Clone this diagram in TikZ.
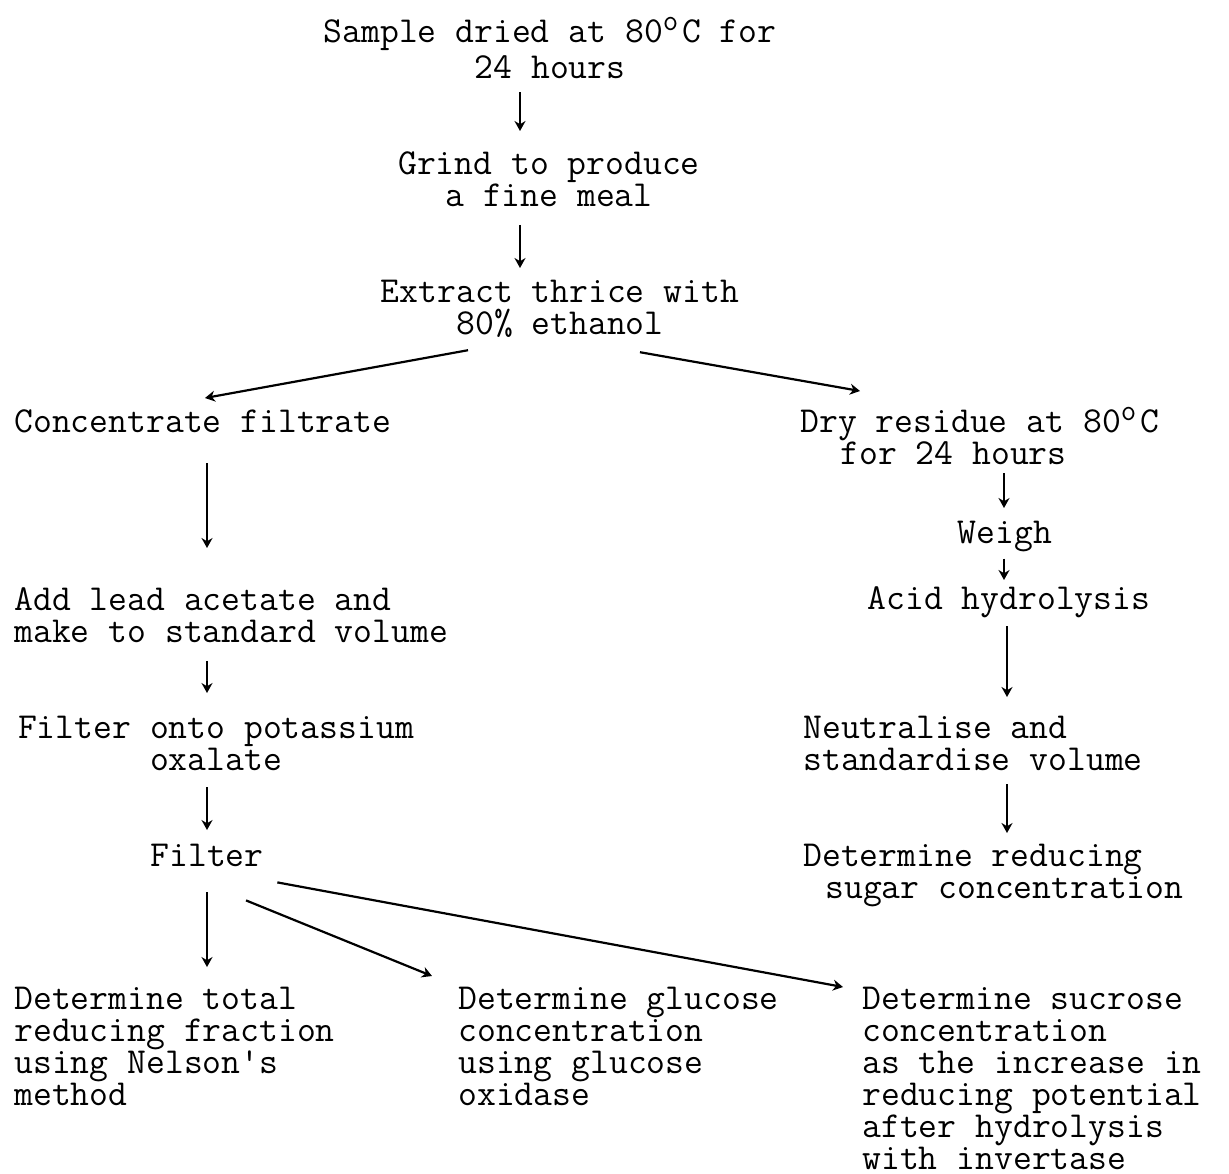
\documentclass[tikz,border=0pt]{standalone}
\usepackage{fontspec}
\usepackage{tikz}
\usetikzlibrary{arrows.meta}
\newcommand\dego{\makebox[0.525em][l]{\raisebox{0.75ex}{\fontsize{15}{15}\selectfont o}}}
\newcommand\typefont{\ttfamily\fontsize{18.3}{16}\selectfont\setlength{\lineskiplimit}{-10pt}}

\begin{document}
\begin{tikzpicture}[x=0.5pt,y=-0.5pt,
    txt/.style={font=\typefont,inner sep=0pt},
    arr/.style={line width=1.1pt,-{Stealth[length=5pt,width=5.5pt]}}]
  \useasboundingbox (0,0) rectangle (1229,1173);
  % top column
  \node[txt,align=center,anchor=north] (sample) at (550,17) {Sample dried at 80\dego C for\\[2pt]24 hours};
  \node[txt,align=center,anchor=north] (grind) at (549,151) {Grind to produce\\a fine meal};
  \node[txt,align=center,anchor=north] (extract) at (560,280) {Extract thrice with\\80\% ethanol};
  % left branch
  \node[txt,anchor=north west] (conc) at (14,409) {Concentrate filtrate};
  \node[txt,align=left,anchor=north west] (addlead) at (14,587) {Add lead acetate and\\make to standard volume};
  \node[txt,align=center,anchor=north] (filtonto) at (216,716) {Filter onto potassium\\oxalate};
  \node[txt,anchor=north] (filter) at (207,844) {Filter};
  \node[txt,align=left,anchor=north west] (total) at (14,987) {Determine total\\reducing fraction\\using Nelson's\\method};
  \node[txt,align=left,anchor=north west] (glucose) at (458,987) {Determine glucose\\concentration\\using glucose\\oxidase};
  \node[txt,align=left,anchor=north west] (sucrose) at (862,987) {Determine sucrose\\concentration\\as the increase in\\reducing potential\\after hydrolysis\\with invertase};
  % right branch
  \node[txt,align=left,anchor=north west] (dry) at (800,407) {Dry residue at 80\dego C\\\hspace*{20pt}for 24 hours};
  \node[txt,anchor=north] (weigh) at (1005,521) {Weigh};
  \node[txt,anchor=north] (acid) at (1009,586) {Acid hydrolysis};
  \node[txt,align=left,anchor=north west] (neut) at (803,716) {Neutralise and\\standardise volume};
  \node[txt,align=left,anchor=north west] (detred) at (803,844) {Determine reducing\\\hspace*{11pt}sugar concentration};

  \draw[arr] ([xshift=-15pt,yshift=-6.5pt]sample.south) -- ([xshift=-14.5pt,yshift=10pt]grind.north);
  \draw[arr] ([xshift=-14.5pt,yshift=-9pt]grind.south) -- ([xshift=-20pt,yshift=6pt]extract.north);
  \draw[arr] ([xshift=43.75pt,yshift=-6pt]extract.south west) -- ([xshift=95.5pt,yshift=5.5pt]conc.north west);
  \draw[arr] ([xshift=-49.75pt,yshift=-7pt]extract.south east) -- ([xshift=30pt,yshift=8pt]dry.north west);

  \draw[arr] ([xshift=96.5pt,yshift=-15pt]conc.south west) -- ([xshift=96.5pt,yshift=19.5pt]addlead.north west);
  \draw[arr] ([xshift=96.5pt,yshift=-9pt]addlead.south west) -- ([xshift=-4.5pt,yshift=11.5pt]filtonto.north);
  \draw[arr] ([xshift=-4.5pt,yshift=-8pt]filtonto.south) -- ([yshift=7pt]filter.north);
  \draw[arr] ([yshift=-12.5pt]filter.south) -- ([xshift=96.5pt,yshift=10pt]total.north west);
  \draw[arr] ([xshift=19.5pt,yshift=-16.5pt]filter.south) -- ([xshift=-13pt,yshift=5.5pt]glucose.north west);
  \draw[arr] ([xshift=6.7pt,yshift=-7.5pt]filter.south east) -- ([xshift=-9.5pt,yshift=0pt]sucrose.north west);

  \draw[arr] ([xshift=102pt,yshift=-4pt]dry.south west) -- ([xshift=-0.5pt,yshift=6.5pt]weigh.north);
  \draw[arr] ([xshift=-0.5pt,yshift=-3pt]weigh.south) -- ([xshift=-2.5pt,yshift=3pt]acid.north);
  \draw[arr] ([xshift=-1pt,yshift=-4pt]acid.south) -- ([xshift=102pt,yshift=9.5pt]neut.north west);
  \draw[arr] ([xshift=102pt,yshift=-6.5pt]neut.south west) -- ([xshift=102pt,yshift=5.5pt]detred.north west);
\end{tikzpicture}
\end{document}
